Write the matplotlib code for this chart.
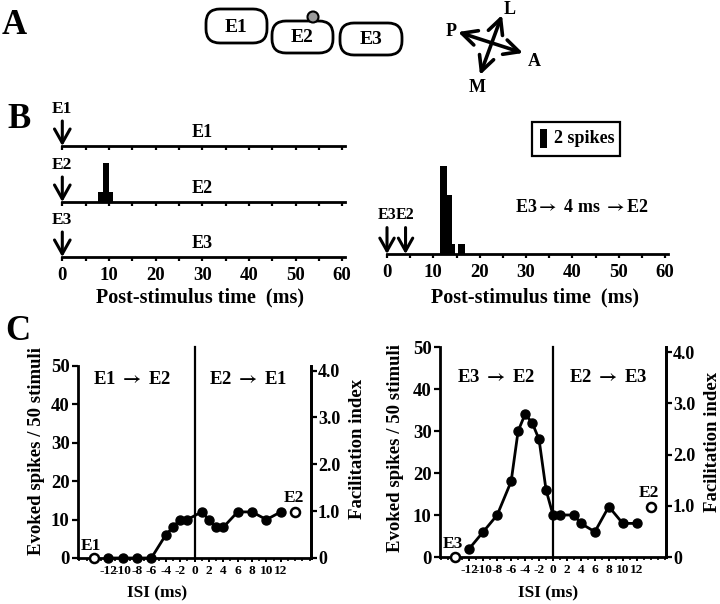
import numpy as np
import matplotlib
matplotlib.use('Agg')
import matplotlib.pyplot as plt
from matplotlib.patches import FancyBboxPatch, Circle, Rectangle
from matplotlib.ticker import MultipleLocator, FuncFormatter

plt.rcParams['font.family'] = ['Liberation Serif', 'DejaVu Serif']
plt.rcParams['font.weight'] = 'bold'
plt.rcParams['axes.unicode_minus'] = False
plt.rcParams['mathtext.fontset'] = 'stix'

W, H = 720, 604

# B: post-stimulus time histograms (bin edges in ms, spike counts)
psth_e2_edges = [7.7, 8.65, 10.05, 10.9]
psth_e2_counts = [1, 4, 1]
psth_pair_edges = [11.5, 12.9, 14.0, 14.7, 15.4, 16.8]
psth_pair_counts = [9, 6, 1, 0, 1]
pair_isi = 4  # E3 -> 4 ms -> E2
scale_spikes = 2

# C: evoked spikes / 50 stimuli vs ISI (ms)
isi_e1e2 = [-12, -10, -8, -6, -4, -3, -2, -1, 1, 2, 3, 4, 6, 8, 10, 12]
spk_e1e2 = [0, 0, 0, 0, 6, 8, 10, 10, 12, 10, 8, 8, 12, 12, 10, 12]
isi_e3e2 = [-12, -10, -8, -6, -5, -4, -3, -2, -1, 0, 1, 3, 4, 6, 8, 10, 12]
spk_e3e2 = [2, 6, 10, 18, 30, 34, 32, 28, 16, 10, 10, 10, 8, 6, 12, 8, 8]
# single electrode controls (open circles)
ctrl_isi = [-14, 14]
ctrl_e1e2 = [0, 12]
ctrl_e3e2 = [0, 12]
isi_ticks = list(range(-12, 13, 2))
spikes_per_fi = 12.2

ARROW = r'$\rightarrow$'


def px_rect(x0, y0, x1, y1):
    return [x0 / W, 1 - y1 / H, (x1 - x0) / W, (y1 - y0) / H]


fig = plt.figure(figsize=(W / 100, H / 100), dpi=100)

ov = fig.add_axes([0, 0, 1, 1])
ov.set_xlim(0, W)
ov.set_ylim(H, 0)
ov.axis('off')

# ---- panel A: electrode layout + compass
for lab, (x0, y0, x1, y1) in {'E1': (206, 9, 267, 43), 'E2': (272, 21, 333, 53),
                             'E3': (340, 23, 402, 55)}.items():
    ov.add_patch(FancyBboxPatch((x0, y0), x1 - x0, y1 - y0,
                                boxstyle='round,pad=0,rounding_size=14',
                                fc='white', ec='k', lw=2))
    ov.text((x0 + x1) / 2, (y0 + y1) / 2 + 1, lab, fontsize=14, ha='center', va='center')
ov.add_patch(Circle((313, 17), 5.5, fc='#9a9a9a', ec='k', lw=1.5, zorder=3))

arrow = dict(arrowstyle='<->,head_length=0.9,head_width=0.45', lw=2.6,
             color='k', shrinkA=0, shrinkB=0, mutation_scale=12)
ov.annotate('', xy=(458, 32), xytext=(523, 53), arrowprops=arrow)
ov.annotate('', xy=(502, 15), xytext=(480, 75), arrowprops=arrow)
for s, x, y in [('L', 510, 10), ('P', 451, 32), ('A', 534, 62), ('M', 477, 88)]:
    ov.text(x, y, s, fontsize=13, ha='center', va='center')

for s, x, y in [('A', 14, 26), ('B', 19, 119), ('C', 18, 332)]:
    ov.text(x, y, s, fontsize=25, ha='center', va='center')

# ---- panel B: PSTHs
px_per_spike = 9.8


def psth_axes(x0, base, top, x1):
    ax = fig.add_axes(px_rect(x0, top, x1, base))
    ax.set_xlim(0, 60.6)
    ax.set_ylim(0, (base - top) / px_per_spike)
    for s in ['left', 'right', 'top']:
        ax.spines[s].set_visible(False)
    ax.spines['bottom'].set_linewidth(2)
    ax.set_yticks([])
    ax.xaxis.set_major_locator(MultipleLocator(10))
    ax.xaxis.set_minor_locator(MultipleLocator(5))
    ax.tick_params(axis='x', which='both', direction='out', length=3, width=1.6,
                   labelsize=13.5, pad=4)
    ax.patch.set_alpha(0)
    return ax


def stim_arrow(ax, x, name, off, size=12.5):
    ax.annotate(name, xy=(x, 0), xytext=(0, off), textcoords='offset points',
                ha='center', va='bottom', fontsize=size,
                arrowprops=dict(arrowstyle='->,head_length=0.8,head_width=0.45',
                                lw=2.2, color='k', shrinkA=1, shrinkB=0))


rows = [('E1', 146, None, None), ('E2', 202, psth_e2_edges, psth_e2_counts),
        ('E3', 257, None, None)]
for i, (name, base, edges, counts) in enumerate(rows):
    ax = psth_axes(62.3, base, base - 45, 345)
    if edges is not None:
        ax.bar(edges[:-1], counts, width=np.diff(edges), align='edge', color='k', lw=0)
    stim_arrow(ax, 0, name, 21)
    ax.annotate(name, xy=(30, 0), xytext=(0, 9.5), textcoords='offset points',
                ha='center', va='center', fontsize=13)
    if i < 2:
        ax.tick_params(axis='x', labelbottom=False)

axr = psth_axes(387, 254, 118, 668)
axr.bar(psth_pair_edges[:-1], psth_pair_counts, width=np.diff(psth_pair_edges),
        align='edge', color='k', lw=0)
stim_arrow(axr, 0, 'E3', 22, 11.5)
stim_arrow(axr, pair_isi, 'E2', 22, 11.5)
axr.text(42, 4.7, f'E3{ARROW} {pair_isi} ms {ARROW}E2', fontsize=13, ha='center', va='center')
axr.add_patch(Rectangle((31.3, 10.0), 18.9, 3.5, fill=False, ec='k', lw=1.6, clip_on=False))
axr.bar(33.7, scale_spikes, width=1.4, bottom=10.8, color='k', lw=0, clip_on=False)
axr.text(36.0, 11.75, f'{scale_spikes} spikes', fontsize=13, ha='left', va='center')

ov.text(200, 297, 'Post-stimulus time  (ms)', fontsize=14.5, ha='center', va='center')
ov.text(535, 297, 'Post-stimulus time  (ms)', fontsize=14.5, ha='center', va='center')


# ---- panel C: ISI curves
def isi_panel(rect, isi, spk, ctrl, ctrl_names, pairs, div_top):
    ax = fig.add_axes(rect)
    ax.set_xlim(-16.2, 16.2)
    ax.set_ylim(0, 50)
    ax.plot(isi, spk, '-o', color='k', lw=2, ms=6.5, clip_on=False, zorder=3)
    ax.plot(ctrl_isi, ctrl, 'o', mfc='white', mec='k', mew=1.8, ms=6.5, clip_on=False, zorder=3)
    ax.axvline(0, ymin=0, ymax=div_top, color='k', lw=1.6, clip_on=False)
    ax.annotate(ctrl_names[0], xy=(ctrl_isi[0], ctrl[0]), xytext=(-2, 9),
                textcoords='offset points', ha='center', va='center', fontsize=12.5)
    ax.annotate(ctrl_names[1], xy=(ctrl_isi[1], ctrl[1]), xytext=(-1, 10),
                textcoords='offset points', ha='center', va='center', fontsize=12.5)
    for txt, x, y in pairs:
        ax.text(x, y, txt, fontsize=13.5, ha='center', va='center')
    ax.spines['top'].set_visible(False)
    for s in ['left', 'bottom', 'right']:
        ax.spines[s].set_linewidth(2)
    ax.set_xticks(isi_ticks)
    ax.xaxis.set_minor_locator(MultipleLocator(1))
    ax.set_yticks(range(0, 51, 10))
    ax.tick_params(axis='x', which='major', direction='out', length=3, width=1.4,
                   labelsize=9.6, pad=2)
    ax.tick_params(axis='x', which='minor', direction='out', length=2.5, width=1.2)
    ax.tick_params(axis='y', direction='out', length=4, width=1.6, labelsize=13.5, pad=2)
    tw = ax.twinx()
    tw.set_ylim(0, 50 / spikes_per_fi)
    tw.set_yticks([0, 1, 2, 3, 4])
    tw.yaxis.set_major_formatter(FuncFormatter(lambda v, p: '0' if v == 0 else f'{v:.1f}'))
    tw.tick_params(axis='y', direction='out', length=4, width=1.6, labelsize=13, pad=1)
    for s in ['top', 'left', 'bottom']:
        tw.spines[s].set_visible(False)
    tw.spines['right'].set_linewidth(2)
    return ax


isi_panel(px_rect(78, 366, 311, 558), isi_e1e2, spk_e1e2, ctrl_e1e2, ['E1', 'E2'],
          [(f'E1 {ARROW} E2', -8.7, 46.6), (f'E2 {ARROW} E1', 7.5, 46.6)], 1.1)
isi_panel(px_rect(440, 347, 666, 557), isi_e3e2, spk_e3e2, ctrl_e3e2, ['E3', 'E2'],
          [(f'E3 {ARROW} E2', -8.1, 42.7), (f'E2 {ARROW} E3', 7.9, 42.7)], 1.0)

for x, y in [(36.7, 451), (395, 448)]:
    ov.text(x, y, 'Evoked spikes / 50 stimuli', fontsize=13.5, rotation=90,
            ha='center', va='center')
for x, y in [(358, 449), (712.7, 442)]:
    ov.text(x, y, 'Facilitation index', fontsize=13.5, rotation=90,
            ha='center', va='center')
for x, y in [(157, 593), (548, 593)]:
    ov.text(x, y, 'ISI (ms)', fontsize=12.5, ha='center', va='center')

fig.savefig('out.png', dpi=100)
